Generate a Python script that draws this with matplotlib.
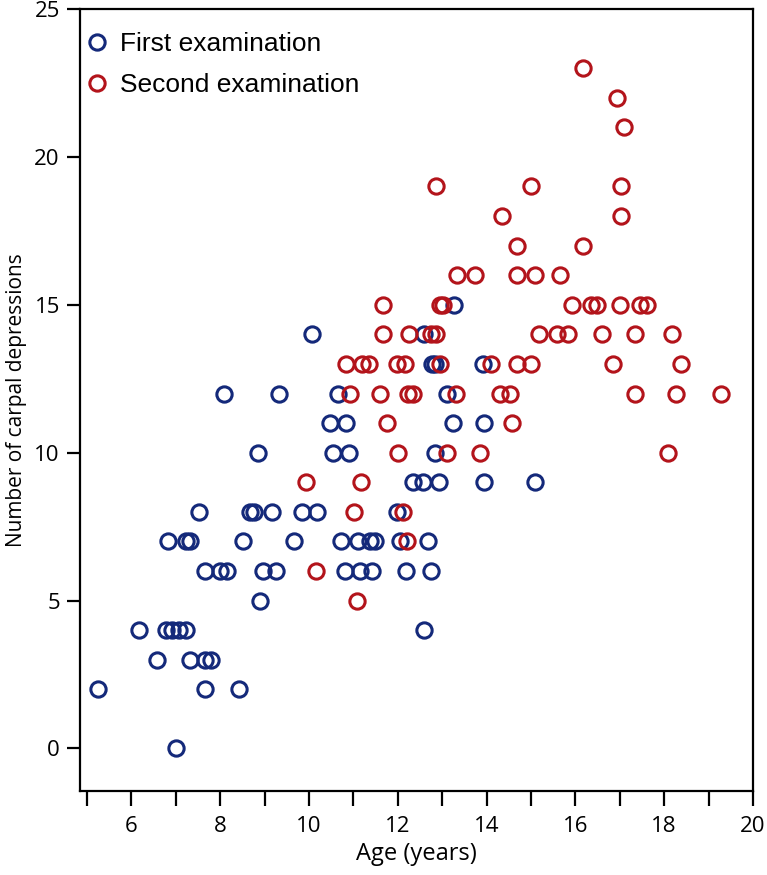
import matplotlib
matplotlib.use("Agg")
import matplotlib.pyplot as plt
from matplotlib.ticker import MultipleLocator

# First examination (blue): age in years, number of carpal depressions
first_age = [7.0,
             5.24, 7.66, 8.42,
             6.57, 7.32, 7.66, 7.80,
             6.16, 6.77, 6.92, 7.07, 7.22, 12.59,
             8.9,
             7.66, 8.0, 8.15, 8.97, 9.26, 10.81, 11.15, 11.41, 12.18, 12.74,
             6.83, 7.23, 7.32, 8.52, 9.67, 10.73, 11.11, 11.37, 11.49, 12.05, 12.67,
             7.51, 8.67, 8.76, 9.17, 9.83, 10.17, 11.99,
             12.35, 12.57, 12.93, 13.93, 15.09,
             8.84, 10.55, 10.91, 12.83,
             10.47, 10.83, 13.25, 13.93,
             8.09, 9.33, 10.66, 13.1,
             12.76, 12.84, 13.91,
             10.07, 12.59,
             13.27]
first_count = [0,
               2, 2, 2,
               3, 3, 3, 3,
               4, 4, 4, 4, 4, 4,
               5,
               6, 6, 6, 6, 6, 6, 6, 6, 6, 6,
               7, 7, 7, 7, 7, 7, 7, 7, 7, 7, 7,
               8, 8, 8, 8, 8, 8, 8,
               9, 9, 9, 9, 9,
               10, 10, 10, 10,
               11, 11, 11, 11,
               12, 12, 12, 12,
               13, 13, 13,
               14, 14,
               15]

# Second examination (red)
second_age = [11.09,
              10.16,
              12.2,
              11.01, 12.11,
              9.93, 11.17,
              12.01, 13.1, 13.84, 18.09,
              11.75, 14.58,
              10.92, 11.6, 12.24, 12.35, 13.32, 14.3, 14.53, 17.35, 18.26, 19.27,
              10.83, 11.19, 11.34, 11.97, 12.16, 12.94, 14.09, 14.68, 15.0, 16.84, 18.37,
              11.67, 12.26, 12.75, 12.86, 15.18, 15.58, 15.84, 16.59, 17.35, 18.18,
              11.67, 12.95, 13.02, 15.92, 16.35, 16.49, 17.0, 17.45, 17.61,
              13.34, 13.74, 14.68, 15.09, 15.65,
              14.68, 16.16,
              14.34, 17.02,
              12.85, 15.0, 17.02,
              17.1,
              16.93,
              16.17]
second_count = [5,
                6,
                7,
                8, 8,
                9, 9,
                10, 10, 10, 10,
                11, 11,
                12, 12, 12, 12, 12, 12, 12, 12, 12, 12,
                13, 13, 13, 13, 13, 13, 13, 13, 13, 13, 13,
                14, 14, 14, 14, 14, 14, 14, 14, 14, 14,
                15, 15, 15, 15, 15, 15, 15, 15, 15,
                16, 16, 16, 16, 16,
                17, 17,
                18, 18,
                19, 19, 19,
                21,
                22,
                23]

blue = "#14297a"
red = "#b3141b"
tick_font = "Open Sans"

fig = plt.figure(figsize=(7.67, 8.75), dpi=100)
ax = fig.add_axes([0.1043, 0.0963, 0.8774, 0.8934])

ax.plot(first_age, first_count, linestyle="none", marker="o", markersize=11,
        markerfacecolor="none", markeredgecolor=blue, markeredgewidth=2.2,
        label="First examination")
ax.plot(second_age, second_count, linestyle="none", marker="o", markersize=11,
        markerfacecolor="none", markeredgecolor=red, markeredgewidth=2.2,
        label="Second examination")

ax.set_xlim(4.84, 20)
ax.set_ylim(-1.43, 25)
ax.xaxis.set_major_locator(MultipleLocator(2))
ax.xaxis.set_minor_locator(MultipleLocator(1))
ax.yaxis.set_major_locator(MultipleLocator(5))

for s in ax.spines.values():
    s.set_linewidth(1.6)
ax.tick_params(axis="x", which="both", direction="out", length=11, width=1.6,
               pad=7, labelsize=16)
ax.tick_params(axis="y", direction="out", length=9.5, width=1.6, pad=5,
               labelsize=16)
for lab in ax.get_xticklabels() + ax.get_yticklabels():
    lab.set_fontfamily(tick_font)

ax.set_xlabel("Age (years)", fontsize=17, fontfamily=tick_font, labelpad=4)
ax.set_ylabel("Number of carpal depressions", fontsize=15, fontfamily=tick_font,
              labelpad=5)

leg = ax.legend(loc="upper left", bbox_to_anchor=(0.006, 0.97), frameon=False,
                borderaxespad=0, borderpad=0, handletextpad=0.37,
                labelspacing=0.62, handlelength=1.0,
                prop={"family": "Liberation Sans", "size": 19})

fig.savefig("out.png", dpi=100)
